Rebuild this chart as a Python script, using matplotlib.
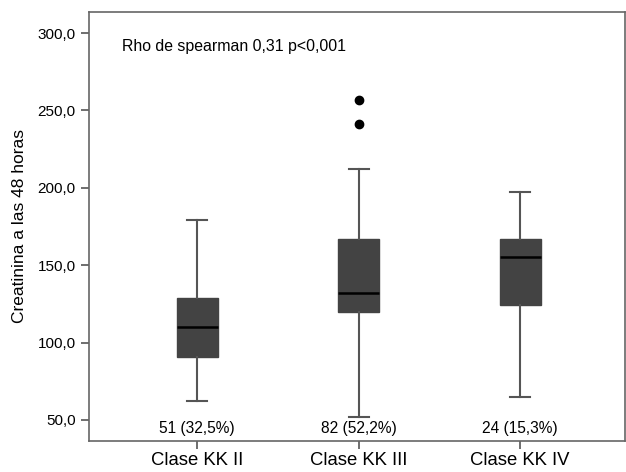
import matplotlib
matplotlib.use("Agg")
import matplotlib.pyplot as plt

plt.rcParams['font.family'] = ['Liberation Sans', 'DejaVu Sans']

categories = ["Clase KK II", "Clase KK III", "Clase KK IV"]
whislo = [62, 52, 65]
q1 = [90.5, 120, 124]
med = [110, 132, 155]
q3 = [129, 167, 167]
whishi = [179, 212, 197]
fliers = [[], [241, 257], []]
counts = ["51 (32,5%)", "82 (52,2%)", "24 (15,3%)"]
yticks = [50, 100, 150, 200, 250, 300]

stats = []
for i in range(len(categories)):
    stats.append(dict(whislo=whislo[i], q1=q1[i], med=med[i], q3=q3[i],
                      whishi=whishi[i], fliers=fliers[i], label=categories[i]))

fig = plt.figure(figsize=(6.26, 4.72), dpi=100)
ax = fig.add_axes([89/626, 1 - 441/472, (625-89)/626, (441-12)/472])

edge = '#555555'
ax.bxp(stats, positions=[0, 1, 2], widths=0.254, patch_artist=True,
       boxprops=dict(facecolor='#434343', edgecolor='#434343', linewidth=1),
       medianprops=dict(color='black', linewidth=1.8),
       whiskerprops=dict(color=edge, linewidth=1.5),
       capprops=dict(color=edge, linewidth=1.5),
       capwidths=0.125,
       flierprops=dict(marker='o', markerfacecolor='black', markeredgecolor='black', markersize=6))

ax.set_xlim(-0.67, 2.65)
ax.set_ylim(36.4, 313.6)
ax.set_yticks(yticks)
ax.set_yticklabels([f"{v:.1f}".replace('.', ',') for v in yticks], fontsize=11)
ax.set_xticks([0, 1, 2])
ax.set_xticklabels(categories, fontsize=13.3)
ax.tick_params(axis='both', direction='out', length=6, color=edge, width=1.2)
ax.tick_params(axis='x', pad=2)
for s in ax.spines.values():
    s.set_color('#666666')
    s.set_linewidth(1.2)

ax.set_ylabel("Creatinina a las 48 horas", fontsize=12.5, labelpad=8)

for i, c in enumerate(counts):
    ax.text(i, 44.8, c, ha='center', va='center', fontsize=11.2)

fig.text(122/626, 1 - 46/472, "Rho de spearman 0,31 p<0,001", fontsize=11.4, va='center')

fig.savefig("out.png", dpi=100)
